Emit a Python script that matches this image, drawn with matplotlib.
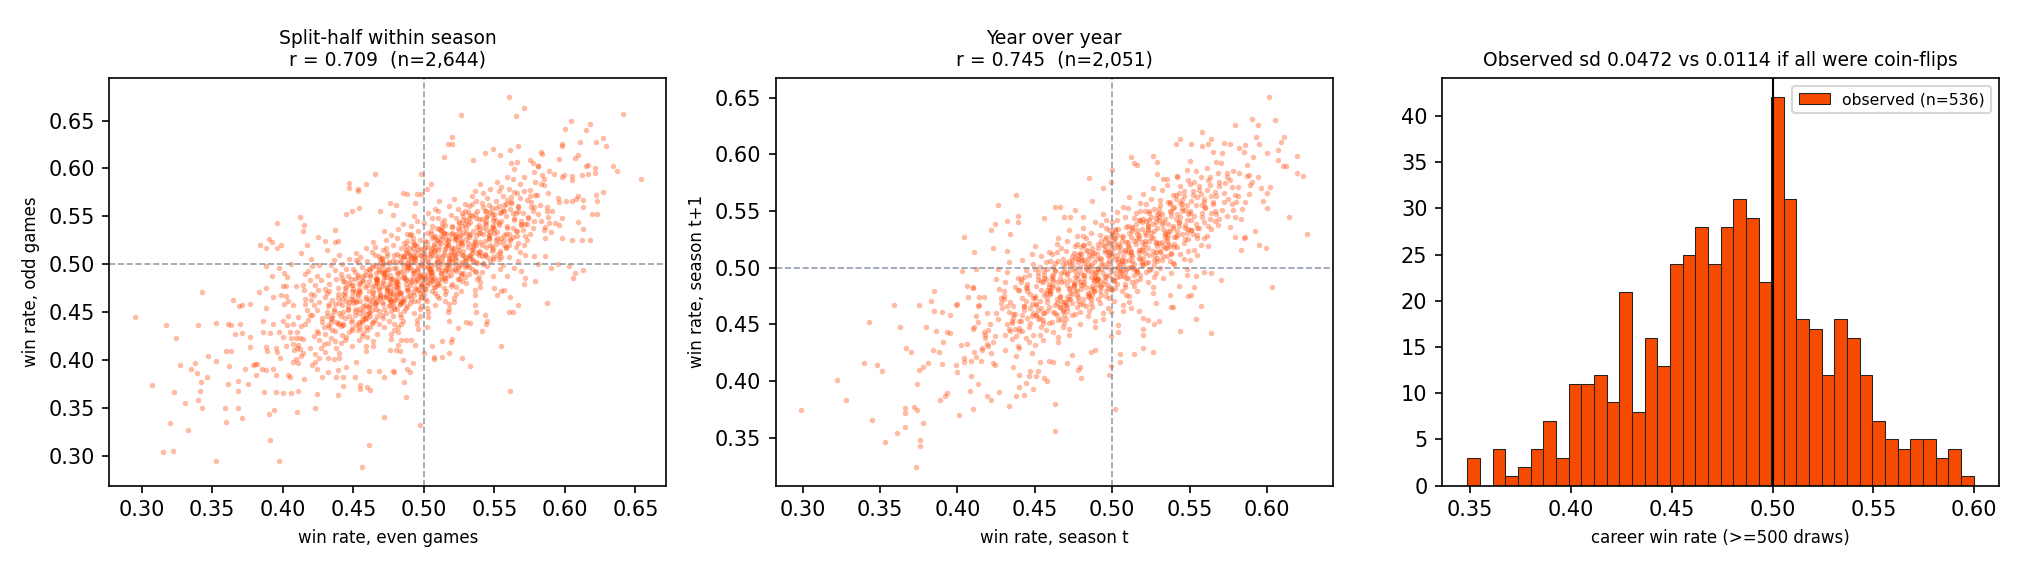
import numpy as np
import matplotlib.pyplot as plt

# win rates in thousandths
# split-half panel: (even games, odd games)
split_edge = [
    (295,445),(307,374),(315,304),(322,305),(320,334),(317,436),(324,423),(327,395),(323,366),(331,355),
    (333,327),(335,390),(338,397),(340,436),(339,386),(342,377),(341,367),(340,358),(343,350),(343,471),
    (346,382),(347,404),(353,399),(353,439),(353,294),(359,350),(360,409),(363,409),(360,335),(361,375),
    (361,437),(363,436),(362,394),(365,463),(366,427),(368,378),(368,368),(368,350),(369,456),(371,457),
    (370,437),(371,428),(371,339),(373,391),(375,375),(377,424),(377,458),(377,413),(379,395),(380,396),
    (382,396),(381,384),(384,520),(383,471),(385,390),(386,441),(386,429),(387,366),(388,389),(388,517),
    (388,498),(388,413),(389,409),(388,475),(388,454),(390,526),(390,344),(391,316),(391,428),(392,523),
    (392,488),(393,390),(393,437),(393,466),(394,348),(395,412),(396,408),(395,384),(395,366),(396,543),
    (396,517),(397,496),(397,294),(397,429),(398,402),(399,520),(399,468),(400,365),(400,441),(400,424),
    (401,491),(402,414),(402,477),(404,461),(404,384),(405,382),(406,365),(406,500),(407,398),(407,437),
    (407,457),(409,477),(409,423),(410,346),(411,367),(411,445),(412,549),(412,411),(413,512),(413,404),
    (414,422),(414,535),(415,541),(415,380),(416,490),(416,438),(417,520),(419,412),(420,505),(422,468),
    (423,350),(423,398),(424,391),(424,364),(424,430),(425,528),(426,499),(428,382),(430,524),(431,515),
    (432,387),(432,402),(437,536),(437,523),(439,524),(438,382),(439,389),(439,363),(443,373),(445,552),
    (447,585),(447,580),(449,555),(453,579),(453,576),(454,559),(455,374),(455,370),(456,288),(459,584),
    (460,372),(462,369),(461,311),(465,594),(469,556),(472,382),(472,340),(476,564),(478,388),(476,410),
    (478,551),(480,562),(482,416),(468,388),(461,388),(451,382),(452,398),(445,393),(443,382),
    (560,675),(571,663),(565,655),(526,656),(641,657),(604,650),(618,646),(600,641),(615,640),(520,633),
    (517,625),(520,625),(627,632),(622,628),(629,623),(611,628),(598,626),(598,623),(567,623),(561,619),
    (549,620),(543,616),(554,614),(514,612),(535,609),(607,611),(609,614),(616,604),(615,603),(634,603),
    (637,597),(654,589),(621,600),(621,595),(616,594),(612,593),(605,592),(605,588),(599,593),(592,594),
    (589,597),(585,589),(581,603),(583,617),(584,615),(575,609),(562,606),(566,607),(498,594),(505,584),
    (502,578),(498,573),(485,574),(488,573),(495,573),(494,564),(627,575),(622,572),(609,571),(608,568),
    (613,567),(605,566),(623,566),(601,566),(596,565),(613,560),(619,552),(623,552),(598,548),(609,544),
    (596,541),(613,537),(605,525),(598,527),(618,525),(612,525),(586,509),(578,509),(579,482),(571,479),
    (572,486),(569,493),(581,500),(590,496),(595,500),(603,498),(613,494),(607,491),(606,486),(587,459),
    (567,457),(563,450),(560,450),(561,466),(557,473),(555,472),(552,468),(550,475),(555,414),(561,367),
    (541,430),(544,438),(545,441),(543,447),(537,450),(536,457),(533,439),(530,440),(533,394),(527,402),
    (524,433),(518,441),(517,450),(518,407),(519,419),(520,422),(513,403),(513,420),(507,403),(507,401),
    (506,414),(502,434),(500,407),(497,332),(490,387),(492,397),(487,361),(486,377),(488,391),(485,400),
    (483,409),(480,410),(479,387),(484,421),(487,421),(491,421),(494,416),
]
split_core = [
    (403,436),(408,410),(401,458),(406,423),(400,477),(409,401),(404,446),(407,417),(402,467),(405,429),(403,487),
    (418,442),(411,416),(416,464),(410,429),(419,483),(414,407),(417,452),(412,423),(415,473),(413,435),(418,493),
    (411,397),(416,458),(410,412),(419,447),(414,478),
    (421,447),(426,421),(420,469),(429,434),(424,488),(427,412),(422,457),(425,428),(423,478),(428,440),
    (421,498),(426,402),(420,463),(429,417),(424,452),(427,483),(422,425),(425,473),(423,406),(428,444),
    (421,395),(426,460),
    (436,453),(430,427),(439,475),(434,440),(437,494),(432,418),(435,463),(433,434),(438,484),(431,446),
    (436,504),(430,408),(439,469),(434,423),(437,458),(432,489),(435,431),(433,479),(438,412),(431,450),
    (436,401),(430,466),(439,438),(434,499),(437,420),(432,456),(435,444),(433,472),
    (440,459),(449,433),(444,481),(447,446),(442,500),(445,424),(443,469),(448,440),(441,490),(446,452),
    (440,510),(449,414),(444,475),(447,429),(442,464),(445,495),(443,437),(448,485),(441,418),(446,456),
    (440,407),(449,472),(444,444),(447,505),(442,426),(445,462),(443,450),(448,478),(441,435),(446,488),
    (440,402),(449,467),(444,421),
    (459,466),(454,440),(457,488),(452,453),(455,507),(453,431),(458,476),(451,447),(456,497),(450,459),
    (459,517),(454,421),(457,482),(452,436),(455,471),(453,502),(458,444),(451,492),(456,425),(450,463),
    (459,414),(454,479),(457,451),(452,512),(455,433),(453,469),(458,457),(451,485),(456,442),(450,495),
    (459,409),(454,474),(457,428),(452,504),(455,461),(453,489),
    (464,472),(467,446),(462,494),(465,459),(463,513),(468,437),(461,482),(466,453),(460,503),(469,465),
    (464,523),(467,427),(462,488),(465,442),(463,477),(468,508),(461,450),(466,498),(460,431),(469,469),
    (464,420),(467,485),(462,457),(465,518),(463,439),(468,475),(461,463),(466,491),(460,448),(469,501),
    (464,415),(467,480),(462,434),(465,510),(463,467),(468,495),(461,455),(466,484),(460,424),(469,505),
    (477,479),(472,453),(475,501),(473,466),(478,520),(471,444),(476,489),(470,460),(479,510),(474,472),
    (477,530),(472,434),(475,495),(473,449),(478,484),(471,515),(476,457),(470,505),(479,438),(474,476),
    (477,427),(472,492),(475,464),(473,525),(478,446),(471,482),(476,470),(470,498),(479,455),(474,508),
    (477,422),(472,487),(475,441),(473,517),(478,474),(471,502),(476,462),(470,491),(479,431),(474,512),
    (477,468),(472,535),
    (482,486),(485,460),(483,508),(488,473),(481,527),(486,451),(480,496),(489,467),(484,517),(487,479),
    (482,537),(485,441),(483,502),(488,456),(481,491),(486,522),(480,464),(489,512),(484,445),(487,483),
    (482,434),(485,499),(483,471),(488,532),(481,453),(486,489),(480,477),(489,505),(484,462),(487,515),
    (482,429),(485,494),(483,448),(488,524),(481,481),(486,509),(480,469),(489,498),(484,438),(487,519),
    (482,475),(485,542),(483,458),(488,501),
    (495,494),(493,468),(498,516),(491,481),(496,535),(490,459),(499,504),(494,475),(497,525),(492,487),
    (495,545),(493,449),(498,510),(491,464),(496,499),(490,530),(499,472),(494,520),(497,453),(492,491),
    (495,442),(493,507),(498,479),(491,540),(496,461),(490,497),(499,485),(494,513),(497,470),(492,523),
    (495,437),(493,502),(498,456),(491,532),(496,489),(490,517),(499,477),(494,506),(497,446),(492,527),
    (495,483),(493,550),(498,466),(491,509),(496,432),
    (503,502),(508,476),(501,524),(506,489),(500,543),(509,467),(504,512),(507,483),(502,533),(505,495),
    (503,553),(508,457),(501,518),(506,472),(500,507),(509,538),(504,480),(507,528),(502,461),(505,499),
    (503,450),(508,515),(501,487),(506,548),(500,469),(509,505),(504,493),(507,521),(502,478),(505,531),
    (503,445),(508,510),(501,464),(506,540),(500,497),(509,525),(504,485),(507,514),(502,454),(505,535),
    (503,491),(508,558),(501,474),(506,517),
    (518,510),(511,484),(516,532),(510,497),(519,551),(514,475),(517,520),(512,491),(515,541),(513,503),
    (518,561),(511,465),(516,526),(510,480),(519,515),(514,546),(517,488),(512,536),(515,469),(513,507),
    (518,458),(511,523),(516,495),(510,556),(519,477),(514,513),(517,501),(512,529),(515,486),(513,539),
    (518,453),(511,518),(516,472),(510,548),(519,505),(514,533),(517,493),(512,522),(515,462),(513,543),
    (518,499),(511,566),
    (521,517),(526,491),(520,539),(529,504),(524,558),(527,482),(522,527),(525,498),(523,548),(528,510),
    (521,568),(526,472),(520,533),(529,487),(524,522),(527,553),(522,495),(525,543),(523,476),(528,514),
    (521,465),(526,530),(520,502),(529,563),(524,484),(527,520),(522,508),(525,536),(523,493),(528,546),
    (521,460),(526,525),(520,479),(529,555),(524,512),(527,540),(522,500),(525,529),(523,469),(528,550),
    (536,525),(530,499),(539,547),(534,512),(537,566),(532,490),(535,535),(533,506),(538,556),(531,518),
    (536,576),(530,480),(539,541),(534,495),(537,530),(532,561),(535,503),(533,551),(538,484),(531,522),
    (536,473),(530,538),(539,510),(534,571),(537,492),(532,528),(535,516),(533,544),(538,501),(531,554),
    (536,468),(530,533),(539,487),(534,563),(537,520),(532,548),
    (540,533),(549,507),(544,555),(547,520),(542,574),(545,498),(543,543),(548,514),(541,564),(546,526),
    (540,584),(549,488),(544,549),(547,503),(542,538),(545,569),(543,511),(548,559),(541,492),(546,530),
    (540,481),(549,546),(544,518),(547,579),(542,500),(545,536),(543,524),(548,552),(541,509),(546,562),
    (540,476),(549,541),
    (559,540),(554,514),(557,562),(552,527),(555,581),(553,505),(558,550),(551,521),(556,571),(550,533),
    (559,591),(554,495),(557,556),(552,510),(555,545),(553,576),(558,518),(551,566),(556,499),(550,537),
    (559,488),(554,553),(557,525),(552,586),(555,507),(553,543),(558,531),(551,559),
    (564,548),(567,522),(562,570),(565,535),(563,589),(568,513),(561,558),(566,529),(560,579),(569,541),
    (564,599),(567,503),(562,564),(565,518),(563,553),(568,584),(561,526),(566,574),(560,507),(569,545),
    (564,496),(567,561),
    (577,555),(572,529),(575,577),(573,542),(578,596),(571,520),(576,565),(570,536),(579,586),(574,548),
    (577,606),(572,510),(575,571),(573,525),(578,560),(571,591),
    (582,562),(585,536),(583,584),(588,549),(581,603),(586,527),(580,572),(589,543),(584,593),(587,555),
    (595,569),(593,543),(598,591),(591,556),(596,610),(590,534),
]
# the densest middle of the split-half cloud
split_inner = [
    (436,451),(432,436),(439,465),(434,443),(430,474),(437,430),(433,458),(438,440),(431,470),(435,447),
    (442,457),(449,442),(444,471),(440,449),(447,480),(443,436),(448,464),(441,446),(445,476),(446,453),
    (442,486),(449,431),(444,467),(440,439),(447,460),(443,482),
    (459,464),(454,449),(450,478),(457,456),(453,487),(458,443),(451,471),(455,453),(456,483),(452,460),
    (459,493),(454,438),(450,474),(457,446),(453,467),(458,489),(451,451),(455,480),(456,440),(452,462),
    (459,434),(454,472),
    (464,470),(460,455),(467,484),(463,462),(468,493),(461,449),(465,477),(466,459),(462,489),(469,466),
    (464,499),(460,444),(467,480),(463,452),(468,473),(461,495),(465,457),(466,486),(462,446),(469,468),
    (464,440),(460,478),(467,461),(463,497),(468,451),(461,472),(465,465),(466,482),
    (470,477),(477,462),(473,491),(478,469),(471,500),(475,456),(476,484),(472,466),(479,496),(474,473),
    (470,506),(477,451),(473,487),(478,459),(471,480),(475,502),(476,464),(472,493),(479,453),(474,475),
    (470,447),(477,485),(473,468),(478,504),(471,458),(475,479),(476,472),(472,489),(479,463),(474,495),
    (487,484),(483,469),(488,498),(481,476),(485,507),(486,463),(482,491),(489,473),(484,503),(480,480),
    (487,513),(483,458),(488,494),(481,466),(485,487),(486,509),(482,471),(489,500),(484,460),(480,482),
    (487,454),(483,492),(488,475),(481,511),(485,465),(486,486),(482,479),(489,496),(484,470),(480,502),
    (493,492),(498,477),(491,506),(495,484),(496,515),(492,471),(499,499),(494,481),(490,511),(497,488),
    (493,521),(498,466),(491,502),(495,474),(496,495),(492,517),(499,479),(494,508),(490,468),(497,490),
    (493,462),(498,500),(491,483),(495,519),(496,473),(492,494),(499,487),(494,504),(490,478),(497,510),
    (508,500),(501,485),(505,514),(506,492),(502,523),(509,479),(504,507),(500,489),(507,519),(503,496),
    (508,529),(501,474),(505,510),(506,482),(502,503),(509,525),(504,487),(500,516),(507,476),(503,498),
    (508,470),(501,508),(505,491),(506,527),(502,481),(509,502),(504,495),(500,512),(507,486),(503,518),
    (511,508),(515,493),(516,522),(512,500),(519,531),(514,487),(510,515),(517,497),(513,527),(518,504),
    (511,537),(515,482),(516,518),(512,490),(519,511),(514,533),(510,495),(517,524),(513,484),(518,506),
    (511,478),(515,516),(516,499),(512,535),(519,489),(514,510),(510,503),(517,520),(513,494),(518,526),
    (525,515),(526,500),(522,529),(529,507),(524,538),(520,494),(527,522),(523,504),(528,534),(521,511),
    (525,544),(526,489),(522,525),(529,497),(524,518),(520,540),(527,502),(523,531),(528,491),(521,513),
    (525,485),(526,523),(522,506),(529,542),(524,496),(520,517),(527,510),(523,527),
    (536,523),(532,508),(539,537),(534,515),(530,546),(537,502),(533,530),(538,512),(531,542),(535,519),
    (536,552),(532,497),(539,533),(534,505),(530,526),(537,548),(533,510),(538,539),(531,499),(535,521),
    (536,493),(532,531),(539,514),(534,550),(530,504),
    (542,531),(549,516),(544,545),(540,523),(547,554),(543,510),(548,538),(541,520),(545,550),(546,527),
    (542,560),(549,505),(544,541),(540,513),(547,534),(543,556),(548,518),(541,547),(545,507),(546,529),
    (542,501),(549,539),
    (559,538),(554,523),(550,552),(557,530),(553,561),(558,517),(551,545),(555,527),(556,557),(552,534),
    (559,567),(554,512),(550,548),(557,520),(553,541),(558,563),(551,525),(555,554),
    (564,546),(560,531),(567,560),(563,538),(568,569),(561,525),(565,553),(566,535),(562,565),(569,542),
    (564,575),(560,520),(567,556),(563,528),
    (570,553),(577,538),(573,567),(578,545),(571,576),(575,532),(576,560),(572,542),(579,572),(574,549),
    (587,560),(583,545),(588,574),(581,552),(585,583),(586,539),
]

# year-over-year panel: (season t, season t+1)
yoy_edge = [
    (299,374),(322,401),(328,383),(340,416),(343,452),(345,366),(348,414),(351,409),(353,346),(359,467),
    (361,354),(363,448),(366,376),(366,372),(366,359),(367,429),(370,426),(372,377),(374,374),(374,397),
    (373,324),(375,467),(375,410),(376,343),(376,348),(378,412),(378,363),(381,416),(380,448),(383,471),
    (385,479),(385,462),(386,444),(384,427),(388,426),(390,415),(389,383),(390,461),(391,434),(392,387),
    (393,389),(393,443),(395,442),(395,458),(399,467),(399,414),(400,468),(400,408),(401,370),(402,432),
    (403,497),(404,420),(404,527),(404,417),(406,433),(406,484),(407,474),(408,391),(409,418),(409,404),
    (410,482),(410,446),(410,375),(411,514),(411,426),(412,499),(412,421),(413,452),(413,397),(414,467),
    (416,429),(417,474),(418,441),(419,460),(419,387),(422,533),(422,383),(423,517),(424,539),(424,414),
    (426,555),(427,390),(432,541),(432,515),(433,378),(434,530),(436,412),(438,387),(438,564),(439,546),
    (439,540),(440,405),(440,395),(443,388),(444,398),(446,404),(447,409),(449,393),(451,404),(452,409),
    (453,417),(456,403),(456,544),(458,400),(459,418),(463,380),(463,356),(463,554),
    (601,651),(590,631),(594,626),(605,630),(579,626),(558,620),(564,614),(544,614),(541,609),(551,609),
    (558,607),(562,609),(576,609),(582,606),(585,602),(595,609),(600,601),(607,604),(611,615),(609,611),
    (619,599),(607,595),(610,590),(612,590),(619,584),(623,581),(602,571),(600,566),(600,553),(614,545),
    (626,530),(599,517),(595,520),(592,532),(583,516),(585,526),(586,527),(603,483),(587,581),(590,576),
    (542,580),(535,578),(529,583),(526,599),(529,593),(516,591),(514,592),(512,598),(500,586),(499,576),
    (485,579),(494,570),(487,559),(481,545),(466,554),(469,545),(473,545),(476,551),(564,495),(570,489),
    (559,496),(554,493),(548,494),(543,484),(553,483),(549,475),(551,476),(557,466),(554,455),(544,444),
    (564,442),(539,465),(538,465),(537,476),(528,469),(530,453),(527,450),(523,454),(520,456),(520,446),
    (517,462),(520,441),(526,426),(520,429),(514,424),(512,464),(505,424),(505,417),(504,449),(504,443),
    (502,375),(498,405),(499,413),(499,461),(499,440),(489,427),(486,426),(479,412),(480,403),(478,410),
    (474,423),(471,416),(462,417),
]
yoy_core = [
    (411,448),(416,427),(413,466),(418,438),(410,483),(415,418),(412,457),(419,433),(414,474),(417,443),
    (426,455),(423,434),(428,473),(420,445),(425,490),(422,425),(429,464),(424,440),(427,481),(421,450),
    (426,499),(423,416),(428,469),(420,431),(425,460),
    (433,461),(438,440),(430,479),(435,451),(432,496),(439,431),(434,470),(437,446),(431,487),(436,456),
    (433,505),(438,422),(430,475),(435,437),(432,466),(439,491),(434,444),(437,483),(431,427),(436,459),
    (448,468),(440,447),(445,486),(442,458),(449,503),(444,438),(447,477),(441,453),(446,494),(443,463),
    (448,512),(440,429),(445,482),(442,444),(449,473),(444,498),(447,451),(441,490),(446,434),(443,466),
    (448,425),(440,480),(445,456),(442,507),(449,441),(444,471),
    (450,475),(455,454),(452,493),(459,465),(454,510),(457,445),(451,484),(456,460),(453,501),(458,470),
    (450,519),(455,436),(452,489),(459,451),(454,480),(457,505),(451,458),(456,497),(453,441),(458,473),
    (450,432),(455,487),(452,463),(459,514),(454,448),(457,478),(451,468),(456,491),(453,456),(458,499),
    (465,482),(462,461),(469,500),(464,472),(467,517),(461,452),(466,491),(463,467),(468,508),(460,477),
    (465,526),(462,443),(469,496),(464,458),(467,487),(461,512),(466,465),(463,504),(468,448),(460,480),
    (465,439),(462,494),(469,470),(464,521),(467,455),(461,485),(466,475),(463,498),(468,463),(460,506),
    (465,434),(462,489),(469,451),(464,514),
    (472,489),(479,468),(474,507),(477,479),(471,524),(476,459),(473,498),(478,474),(470,515),(475,484),
    (472,533),(479,450),(474,503),(477,465),(471,494),(476,519),(473,472),(478,511),(470,455),(475,487),
    (472,446),(479,501),(474,477),(477,528),(471,462),(476,492),(473,482),(478,505),(470,470),(475,513),
    (472,441),(479,496),(474,458),(477,521),(471,485),(476,509),
    (489,496),(484,475),(487,514),(481,486),(486,531),(483,466),(488,505),(480,481),(485,522),(482,491),
    (489,540),(484,457),(487,510),(481,472),(486,501),(483,526),(488,479),(480,518),(485,462),(482,494),
    (489,453),(484,508),(487,484),(481,535),(486,469),(483,499),(488,489),(480,512),(485,477),(482,520),
    (489,448),(484,503),(487,465),(481,528),(486,492),(483,516),(488,482),(480,507),
    (494,503),(497,482),(491,521),(496,493),(493,538),(498,473),(490,512),(495,488),(492,529),(499,498),
    (494,547),(497,464),(491,517),(496,479),(493,508),(498,533),(490,486),(495,525),(492,469),(499,501),
    (494,460),(497,515),(491,491),(496,542),(493,476),(498,506),(490,496),(495,519),(492,484),(499,527),
    (494,455),(497,510),(491,472),(496,535),(493,499),(498,523),(490,489),(495,514),
    (507,510),(501,489),(506,528),(503,500),(508,545),(500,480),(505,519),(502,495),(509,536),(504,505),
    (507,554),(501,471),(506,524),(503,486),(508,515),(500,540),(505,493),(502,532),(509,476),(504,508),
    (507,467),(501,522),(506,498),(503,549),(508,483),(500,513),(505,503),(502,526),(509,491),(504,534),
    (507,462),(501,517),(506,479),(503,542),(508,506),(500,530),(505,496),
    (511,518),(516,497),(513,536),(518,508),(510,553),(515,488),(512,527),(519,503),(514,544),(517,513),
    (511,562),(516,479),(513,532),(518,494),(510,523),(515,548),(512,501),(519,540),(514,484),(517,516),
    (511,475),(516,530),(513,506),(518,557),(510,491),(515,521),(512,511),(519,534),(514,499),(517,542),
    (511,470),(516,525),(513,487),(518,550),(510,514),
    (526,526),(523,505),(528,544),(520,516),(525,561),(522,496),(529,535),(524,511),(527,552),(521,521),
    (526,570),(523,487),(528,540),(520,502),(525,531),(522,556),(529,509),(524,548),(527,492),(521,524),
    (526,483),(523,538),(528,514),(520,565),(525,499),(522,529),(529,519),(524,542),(527,507),(521,550),
    (526,478),(523,533),(528,495),
    (533,534),(538,513),(530,552),(535,524),(532,569),(539,504),(534,543),(537,519),(531,560),(536,529),
    (533,578),(538,495),(530,548),(535,510),(532,539),(539,564),(534,517),(537,556),(531,500),(536,532),
    (533,491),(538,546),(530,522),(535,573),(532,507),(539,537),(534,527),(537,550),(531,515),(536,558),
    (548,542),(540,521),(545,560),(542,532),(549,577),(544,512),(547,551),(541,527),(546,568),(543,537),
    (548,586),(540,503),(545,556),(542,518),(549,547),(544,572),(547,525),(541,564),(546,508),(543,540),
    (548,499),(540,554),(545,530),(542,581),(549,515),(544,545),(547,535),
    (550,550),(555,529),(552,568),(559,540),(554,585),(557,520),(551,559),(556,535),(553,576),(558,545),
    (550,594),(555,511),(552,564),(559,526),(554,555),(557,580),(551,533),(556,572),(553,516),(558,548),
    (550,507),(555,562),
    (565,558),(562,537),(569,576),(564,548),(567,593),(561,528),(566,567),(563,543),(568,584),(560,553),
    (565,602),(562,519),(569,572),(564,534),(567,563),(561,588),(566,541),(563,580),
    (572,566),(579,545),(574,584),(577,556),(571,601),(576,536),(573,575),(578,551),(570,592),(575,561),
    (572,610),(579,527),(574,580),
    (589,573),(584,552),(587,591),(581,563),(586,608),(583,543),(588,582),(580,558),
    (594,580),(597,559),(591,598),(596,570),(593,615),
]
# the densest middle of the year-over-year cloud
yoy_inner = [
    (437,459),(433,446),(430,472),(435,453),(439,480),(431,441),(436,466),(432,450),
    (443,466),(440,453),(445,479),(449,460),(441,487),(446,448),(442,473),(448,457),(444,483),(447,464),
    (443,492),(440,444),
    (450,473),(455,460),(459,486),(451,467),(456,494),(452,455),(458,480),(454,464),(457,490),(453,471),
    (450,499),(455,451),(459,483),(451,458),(456,476),(452,496),(458,462),(454,488),
    (465,480),(469,467),(461,493),(466,474),(462,501),(468,462),(464,487),(467,471),(463,497),(460,478),
    (465,506),(469,458),(461,490),(466,465),(462,483),(468,503),(464,469),(467,495),(463,460),(460,479),
    (465,454),(469,488),
    (479,487),(471,474),(476,500),(472,481),(478,508),(474,469),(477,494),(473,478),(470,504),(475,485),
    (479,513),(471,465),(476,497),(472,472),(478,490),(474,510),(477,476),(473,502),(470,467),(475,486),
    (479,461),(471,495),(476,480),(472,506),(478,471),
    (481,494),(486,481),(482,507),(488,488),(484,515),(487,476),(483,501),(480,485),(485,511),(489,492),
    (481,520),(486,472),(482,504),(488,479),(484,497),(487,517),(483,483),(480,509),(485,474),(489,493),
    (481,468),(486,502),(482,487),(488,513),(484,478),(487,496),
    (496,501),(492,488),(498,514),(494,495),(497,522),(493,483),(490,508),(495,492),(499,518),(491,499),
    (496,527),(492,479),(498,511),(494,486),(497,504),(493,524),(490,490),(495,516),(499,481),(491,500),
    (496,475),(492,509),(498,494),(494,520),(497,485),(493,503),
    (502,508),(508,495),(504,521),(507,502),(503,529),(500,490),(505,515),(509,499),(501,525),(506,506),
    (502,534),(508,486),(504,518),(507,493),(503,511),(500,531),(505,497),(509,523),(501,488),(506,507),
    (502,482),(508,516),(504,501),(507,527),(503,492),(500,510),
    (518,516),(514,503),(517,529),(513,510),(510,537),(515,498),(519,523),(511,507),(516,533),(512,514),
    (518,542),(514,494),(517,526),(513,501),(510,519),(515,539),(519,505),(511,531),(516,496),(512,515),
    (518,490),(514,524),(517,509),(513,535),(510,500),
    (524,524),(527,511),(523,537),(520,518),(525,545),(529,506),(521,531),(526,515),(522,541),(528,522),
    (524,550),(527,502),(523,534),(520,509),(525,527),(529,547),(521,513),(526,539),(522,504),(528,523),
    (524,498),(527,532),(523,517),(520,543),
    (537,532),(533,519),(530,545),(535,526),(539,553),(531,514),(536,539),(532,523),(538,549),(534,530),
    (537,558),(533,510),(530,542),(535,517),(539,535),(531,555),(536,521),(532,547),(538,512),(534,531),
    (537,506),(533,540),
    (543,540),(540,527),(545,553),(549,534),(541,561),(546,522),(542,547),(548,531),(544,557),(547,538),
    (543,566),(540,518),(545,550),(549,525),(541,543),(546,563),(542,529),(548,555),
    (550,548),(555,535),(559,561),(551,542),(556,569),(552,530),(558,555),(554,539),(557,565),(553,546),
    (550,574),(555,526),(559,558),(551,533),
    (565,556),(569,543),(561,569),(566,550),(562,577),(568,538),(564,563),(567,547),(563,573),(560,554),
    (579,564),(571,551),(576,577),(572,558),(578,585),(574,546),(577,571),
    (581,571),(586,558),(582,584),(588,565),
]

# career win-rate histogram, 40 equal bins
career_counts = [3, 0, 4, 1, 2, 4, 7, 3, 11, 11,
                 12, 9, 21, 8, 16, 13, 24, 25, 28, 24,
                 28, 31, 29, 22, 42, 31, 18, 17, 12, 18,
                 16, 12, 7, 5, 4, 5, 5, 3, 4, 1]
career_min, career_max = 0.3486, 0.5998

dot_color = '#ff4500'
bar_color = '#f64a00'
ref_color = 'slategray'

fig, axes = plt.subplots(1, 3, figsize=(13.5, 3.8), dpi=150)
fig.subplots_adjust(left=0.054, right=0.9872, bottom=0.148, top=0.863, wspace=0.196)


def scatter_panel(ax, pts, title, xlabel, ylabel):
    arr = np.array(pts) / 1000.0
    ax.scatter(arr[:, 0], arr[:, 1], s=7, color=dot_color, alpha=0.36, linewidths=0)
    ax.axhline(0.5, color=ref_color, ls='--', lw=0.8, alpha=0.75)
    ax.axvline(0.5, color=ref_color, ls='--', lw=0.8, alpha=0.75)
    ax.set_title(title, fontsize=9)
    ax.set_xlabel(xlabel, fontsize=8)
    ax.set_ylabel(ylabel, fontsize=8)


scatter_panel(axes[0], split_edge + split_core + split_inner,
              'Split-half within season\nr = 0.709  (n=2,644)',
              'win rate, even games', 'win rate, odd games')
scatter_panel(axes[1], yoy_edge + yoy_core + yoy_inner,
              'Year over year\nr = 0.745  (n=2,051)',
              'win rate, season t', 'win rate, season t+1')

# histogram of career win rates
ax = axes[2]
edges = np.linspace(career_min, career_max, len(career_counts) + 1)
ax.bar(edges[:-1], career_counts, width=np.diff(edges), align='edge',
       color=bar_color, edgecolor='#222222', linewidth=0.5, label='observed (n=536)')
ax.axvline(0.5, color='black', lw=1.0)
ax.set_title('Observed sd 0.0472 vs 0.0114 if all were coin-flips', fontsize=9)
ax.set_xlabel('career win rate (>=500 draws)', fontsize=8)
ax.legend(loc='upper right', fontsize=7.5)

fig.savefig('out.png', dpi=150)
